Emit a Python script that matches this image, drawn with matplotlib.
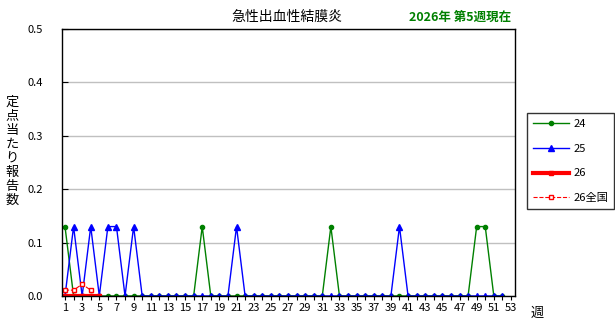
import matplotlib
matplotlib.use("Agg")
import matplotlib.pyplot as plt
import numpy as np

plt.rcParams['font.family'] = ['Noto Sans CJK JP', 'DejaVu Sans']

weeks = list(range(1, 54))
w24 = list(range(1, 53))
v24 = [0.13, 0, 0, 0, 0, 0, 0, 0, 0, 0, 0, 0, 0, 0, 0, 0, 0.13, 0, 0, 0,
       0, 0, 0, 0, 0, 0, 0, 0, 0, 0, 0, 0.13, 0, 0, 0, 0, 0, 0, 0, 0,
       0, 0, 0, 0, 0, 0, 0, 0, 0.13, 0.13, 0, 0]
w25 = list(range(1, 53))
v25 = [0, 0.13, 0, 0.13, 0, 0.13, 0.13, 0, 0.13, 0, 0, 0, 0, 0, 0, 0, 0, 0, 0, 0,
       0.13, 0, 0, 0, 0, 0, 0, 0, 0, 0, 0, 0, 0, 0, 0, 0, 0, 0, 0, 0.13,
       0, 0, 0, 0, 0, 0, 0, 0, 0, 0, 0, 0]
w26 = [1, 2, 3, 4, 5]
v26 = [0, 0, 0, 0, 0]
w26n = [1, 2, 3, 4]
v26n = [0.011, 0.011, 0.022, 0.011]
labels = ['24', '25', '26', '26全国']
title = '急性出血性結膜炎'
subtitle = '2026年 第5週現在'
ylabel = '定点当たり報告数'
xlabel = '週'

fig = plt.figure(figsize=(6.15, 3.27), dpi=100)
ax = fig.add_axes([62/615, 31/327, 453/615, 267/327])

ax.plot(w24, v24, color='#008000', lw=1, marker='o', ms=3, label=labels[0])
ax.plot(w25, v25, color='#0000ff', lw=1, marker='^', ms=5, label=labels[1])
ax.plot(w26, v26, color='#ff0000', lw=3, marker='s', ms=3, label=labels[2])
ax.plot(w26n, v26n, color='#ff0000', lw=0.8, ls='--', marker='s', ms=3.5,
        mfc='white', mec='#ff0000', label=labels[3])

ax.set_xlim(0.65, 53.47)
ax.set_ylim(0, 0.5)
ax.set_yticks([0, 0.1, 0.2, 0.3, 0.4, 0.5])
ax.set_yticklabels(['0.0', '0.1', '0.2', '0.3', '0.4', '0.5'])
ax.set_xticks(weeks)
ax.set_xticklabels([str(w) if w % 2 == 1 else '' for w in weeks])
ax.tick_params(axis='y', direction='in', length=4, labelsize=8, pad=14)
ax.tick_params(axis='x', direction='out', length=3, labelsize=8, pad=2)
ax.yaxis.grid(True, color='#c0c0c0', lw=1)
ax.set_axisbelow(True)
for s in ax.spines.values():
    s.set_color('black')
    s.set_linewidth(1)

fig.text(287/615, 1 - 17/327, title, ha='center', va='center', fontsize=10)
fig.text(460/615, 1 - 17/327, subtitle, ha='center', va='center', fontsize=9,
         color='#008000', fontweight='bold')
fig.text(12/615, 1 - 151/327, '\n'.join(ylabel), ha='center', va='center',
         fontsize=9.5, linespacing=1.1)
fig.text(537/615, 1 - 313/327, xlabel, ha='center', va='center', fontsize=9.5)

leg = ax.legend(loc='upper left', bbox_to_anchor=(527/615, 1 - 113/327),
                bbox_transform=fig.transFigure, fontsize=8, frameon=True,
                fancybox=False, edgecolor='black', borderaxespad=0,
                handlelength=3.2, handletextpad=0.4, labelspacing=1.32,
                borderpad=0.55)
leg.get_frame().set_linewidth(1)

fig.savefig('out.png', dpi=100)
